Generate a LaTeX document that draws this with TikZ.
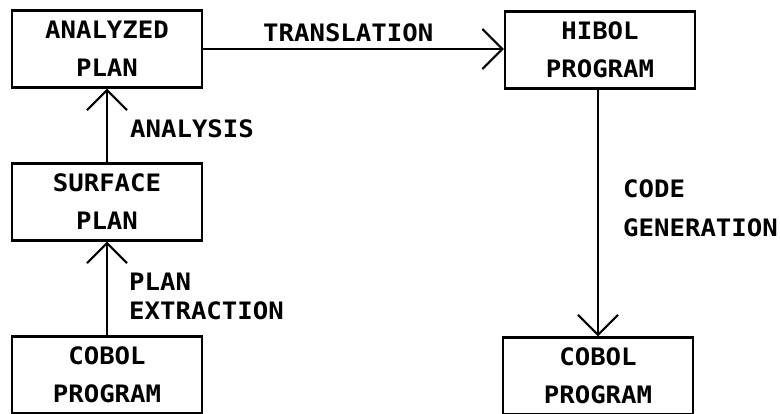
\documentclass[tikz,border=0pt]{standalone}
\usepackage{fontspec}
\newfontfamily\lpfont[FakeStretch=1.07]{DejaVu Sans Mono}
\usetikzlibrary{arrows.meta}
\begin{document}
\begin{tikzpicture}[x=1pt,y=-1pt,
  box/.style={draw, line width=2.2pt, minimum width=190pt, minimum height=77pt,
    inner sep=0pt, align=center, font=\lpfont\bfseries\fontsize{24}{38}\selectfont},
  lbl/.style={inner sep=0pt, align=left, anchor=north west,
    font=\lpfont\bfseries\fontsize{24}{29}\selectfont},
  conn/.style={line width=2.2pt, -{Straight Barb[length=20pt,width=40pt,line width=2.2pt]}}]
\useasboundingbox (0,0) rectangle (780,413);
\node[box] (ap) at (107,49) {ANALYZED\\PLAN};
\node[box] (hp) at (600,50) {HIBOL\\PROGRAM};
\node[box] (sp) at (107,202) {SURFACE\\PLAN};
\node[box] (cl) at (107,375) {COBOL\\PROGRAM};
\node[box] (cr) at (598,376) {COBOL\\PROGRAM};
\node[lbl] (analysis) at (130,119) {ANALYSIS};
\node[lbl] (transl) at (263,23) {TRANSLATION};
\node[lbl] (extr) at (129,273) {PLAN\\EXTRACTION};
\node[lbl, font=\lpfont\bfseries\fontsize{24}{39}\selectfont] (codegen) at (623,179) {CODE\\GENERATION};
\draw[conn] (cl.north) -- (sp.south);
\draw[conn] (sp.north) -- (ap.south);
\draw[conn] (ap.east) -- (ap.east -| hp.west);
\draw[conn] (hp.south -| cr.north) -- (cr.north);
\end{tikzpicture}
\end{document}
